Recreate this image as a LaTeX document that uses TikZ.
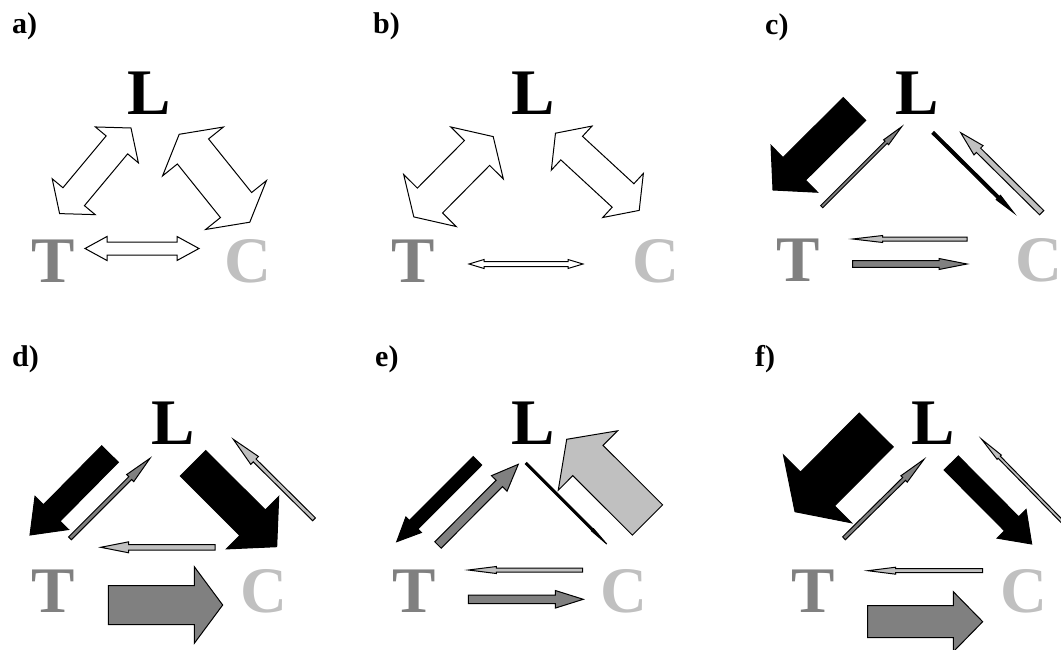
\documentclass[tikz,border=0pt]{standalone}
\usepackage{fontspec}
\setmainfont{Liberation Serif}
\usepackage{tikz}
\usetikzlibrary{calc}
\definecolor{tgray}{RGB}{128,128,128}
\definecolor{cgray}{RGB}{192,192,192}
% block arrow: style, tail, tip, shaft half width, head half width, head length
\newcommand\blkarr[6]{%
\coordinate (ha) at ($(#3)!#6!(#2)$);
\filldraw[#1] ($(#2)!#4!90:(#3)$) -- ($(ha)!#4!90:(#3)$) -- ($(ha)!#5!90:(#3)$) -- (#3)
 -- ($(ha)!#5!-90:(#3)$) -- ($(ha)!#4!-90:(#3)$) -- ($(#2)!#4!-90:(#3)$) -- cycle;}
% double headed block arrow
\newcommand\dblarr[6]{%
\coordinate (ha) at ($(#3)!#6!(#2)$);
\coordinate (hb) at ($(#2)!#6!(#3)$);
\filldraw[#1] (#2) -- ($(hb)!#5!90:(#3)$) -- ($(hb)!#4!90:(#3)$) -- ($(ha)!#4!90:(#3)$) -- ($(ha)!#5!90:(#3)$) -- (#3)
 -- ($(ha)!#5!-90:(#3)$) -- ($(ha)!#4!-90:(#3)$) -- ($(hb)!#4!-90:(#3)$) -- ($(hb)!#5!-90:(#3)$) -- cycle;}

\begin{document}
\begin{tikzpicture}[x=1pt,y=-1pt,
  species/.style={font=\fontsize{65}{65}\selectfont\bfseries,inner sep=0pt},
  panel/.style={font=\fontsize{30}{30}\selectfont\bfseries,inner sep=0pt,anchor=base west},
  bar/.style={draw=black,line width=1pt,line join=miter}]
\useasboundingbox (0,0) rectangle (1061,650);
% labels
\node[panel] (pa) at (12,34) {a)};
\node[panel] (pb) at (373,34) {b)};
\node[panel] (pc) at (765,35) {c)};
\node[panel] (pd) at (12,366) {d)};
\node[panel] (pe) at (375,366) {e)};
\node[panel] (pf) at (755,366) {f)};
% species
\node[species] (La) at (149,93.5) {L};
\node[species,tgray] (Ta) at (53,261) {T};
\node[species,cgray] (Ca) at (247.5,261) {C};
\node[species] (Lb) at (533.5,93.5) {L};
\node[species,tgray] (Tb) at (413,261) {T};
\node[species,cgray] (Cb) at (656,261) {C};
\node[species] (Lc) at (917.5,93.5) {L};
\node[species,tgray] (Tc) at (798,260) {T};
\node[species,cgray] (Cc) at (1038.5,260) {C};
\node[species] (Ld) at (173.5,423.5) {L};
\node[species,tgray] (Td) at (53.5,591.5) {T};
\node[species,cgray] (Cd) at (264,591.5) {C};
\node[species] (Le) at (533,423.3) {L};
\node[species,tgray] (Te) at (414,591.7) {T};
\node[species,cgray] (Ce) at (624,591.5) {C};
\node[species] (Lf) at (933,423.3) {L};
\node[species,tgray] (Tf) at (813.3,591.7) {T};
\node[species,cgray] (Cf) at (1023.7,591.5) {C};
% a)
\dblarr{bar,fill=white}{59.6,213.6}{131,128}{14pt}{28pt}{22pt}
\dblarr{bar,fill=white}{179.2,134.3}{249.8,222.2}{20pt}{39pt}{22pt}
\dblarr{bar,fill=white}{85,248.5}{199,248.5}{6.5pt}{12pt}{22pt}
% b)
\dblarr{bar,fill=white}{413.8,216.9}{493.2,136.6}{17.7pt}{37pt}{23pt}
\dblarr{bar,fill=white}{555.5,133.2}{639.2,210.4}{16pt}{30pt}{22pt}
\dblarr{bar,fill=white}{469,264}{583,264}{2.5pt}{4.5pt}{15pt}
% c)
\blkarr{bar,fill=black}{854.5,109}{773,190}{16pt}{33pt}{30pt}
\blkarr{bar,fill=tgray}{821.7,206.7}{901.7,126.7}{1.5pt}{3.5pt}{22pt}
\blkarr{bar,fill=black}{933,132.7}{1014,213}{1.5pt}{3pt}{22pt}
\blkarr{bar,fill=cgray}{1041.7,212.7}{960.7,132.7}{3pt}{6.5pt}{25pt}
\blkarr{bar,fill=cgray}{967,239}{852.7,239}{2pt}{3.5pt}{30pt}
\blkarr{bar,fill=tgray}{852.7,264}{967,264}{3.3pt}{5.5pt}{28pt}
% d)
\blkarr{bar,fill=black}{110,454}{30,535}{11.7pt}{23.6pt}{31pt}
\blkarr{bar,fill=tgray}{70,538.3}{150,458.3}{2pt}{5pt}{28pt}
\blkarr{bar,fill=black}{193,463.3}{276.7,546.7}{18pt}{37pt}{34pt}
\blkarr{bar,fill=cgray}{314,519.3}{233.3,439.3}{2pt}{5.5pt}{30pt}
\blkarr{bar,fill=cgray}{215,547.3}{100.7,547.3}{2.7pt}{5.5pt}{28pt}
\blkarr{bar,fill=tgray}{108.3,605}{222.7,605}{19.5pt}{38.3pt}{28.4pt}
% e)
\blkarr{bar,fill=black}{477.5,460.8}{396.7,541.7}{6pt}{11pt}{24pt}
\blkarr{bar,fill=tgray}{438,545}{518.3,464.3}{4.5pt}{11pt}{27pt}
\blkarr{bar,fill=black}{526,463.3}{606.7,544}{1pt}{1.5pt}{20pt}
\blkarr{bar,fill=cgray}{647.5,520}{566.7,439.3}{21.4pt}{42pt}{30pt}
\blkarr{bar,fill=cgray}{582.7,570}{468.3,570}{2pt}{3.5pt}{28pt}
\blkarr{bar,fill=tgray}{468.3,599.3}{583.3,599.3}{4.2pt}{8.8pt}{28pt}
% f)
\blkarr{bar,fill=black}{876.2,430}{795,511.7}{24pt}{48pt}{32pt}
\blkarr{bar,fill=tgray}{844,538.3}{924,459.3}{2pt}{4.5pt}{28pt}
\blkarr{bar,fill=black}{951.2,463}{1031.7,544}{10pt}{20.4pt}{28.5pt}
\blkarr{bar,fill=cgray}{1068,527.5}{981.7,439.3}{1.5pt}{3pt}{25pt}
\blkarr{bar,fill=cgray}{982.7,570.7}{867.7,570.7}{2pt}{3.5pt}{28pt}
\blkarr{bar,fill=tgray}{867.7,621.7}{982.7,621.7}{16pt}{30pt}{29.4pt}
\end{tikzpicture}
\end{document}
